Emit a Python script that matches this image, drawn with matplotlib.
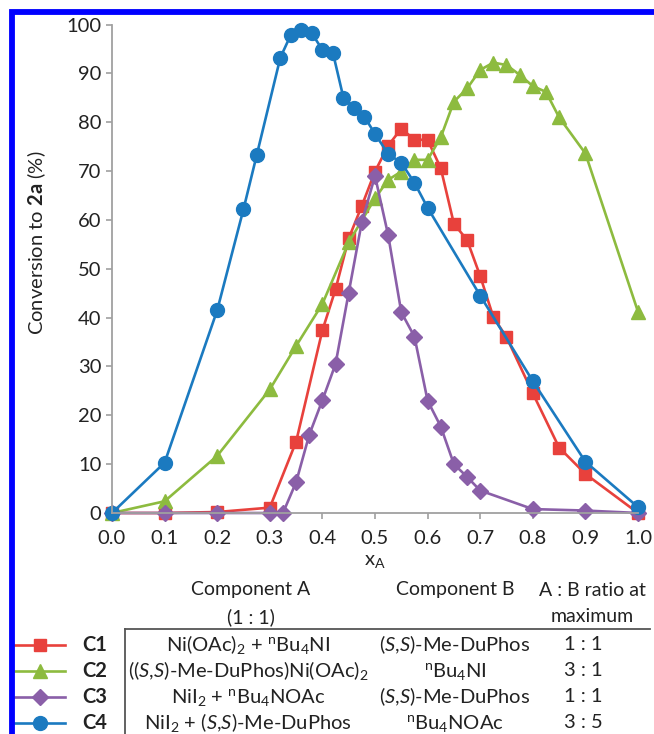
import matplotlib
matplotlib.use("Agg")
import matplotlib.pyplot as plt
from matplotlib.lines import Line2D

plt.rcParams['font.family'] = ['Lato', 'DejaVu Sans']
plt.rcParams['mathtext.fontset'] = 'custom'
plt.rcParams['mathtext.rm'] = 'Lato'
plt.rcParams['mathtext.it'] = 'Lato:italic'
plt.rcParams['mathtext.bf'] = 'Lato:bold'

# ---- data ----
x_c1 = [0, 0.1, 0.2, 0.3, 0.35, 0.4, 0.425, 0.45, 0.475, 0.5, 0.525, 0.55, 0.575, 0.6,
        0.625, 0.65, 0.675, 0.7, 0.725, 0.75, 0.8, 0.85, 0.9, 1.0]
y_c1 = [0, 0, 0.2, 1.1, 14.6, 37.4, 45.8, 56.2, 62.9, 69.9, 75.2, 78.7, 76.4, 76.4,
        70.6, 59.2, 55.9, 48.5, 40.1, 36.0, 24.5, 13.4, 8.0, 0]

x_c2 = [0, 0.1, 0.2, 0.3, 0.35, 0.4, 0.45, 0.5, 0.525, 0.55, 0.575, 0.6, 0.625, 0.65,
        0.675, 0.7, 0.725, 0.75, 0.775, 0.8, 0.825, 0.85, 0.9, 1.0]
y_c2 = [0, 2.4, 11.7, 25.3, 34.2, 42.8, 55.4, 64.4, 68.2, 69.9, 72.3, 72.3, 76.9, 84.2,
        86.9, 90.7, 92.2, 91.7, 89.7, 87.4, 86.2, 81.0, 73.6, 41.2]

x_c3 = [0, 0.1, 0.2, 0.3, 0.325, 0.35, 0.375, 0.4, 0.425, 0.45, 0.475, 0.5, 0.525, 0.55,
        0.575, 0.6, 0.625, 0.65, 0.675, 0.7, 0.8, 0.9, 1.0]
y_c3 = [0, 0, 0, 0, 0, 6.3, 16.0, 23.1, 30.5, 45.1, 59.6, 69.0, 56.9, 41.1,
        36.1, 23.0, 17.7, 10.0, 7.4, 4.6, 0.8, 0.5, 0]

x_c4 = [0, 0.1, 0.2, 0.25, 0.275, 0.32, 0.34, 0.36, 0.38, 0.4, 0.42, 0.44, 0.46, 0.48,
        0.5, 0.525, 0.55, 0.575, 0.6, 0.7, 0.8, 0.9, 1.0]
y_c4 = [0, 10.3, 41.5, 62.2, 73.2, 93.2, 97.9, 98.9, 98.2, 94.8, 94.2, 85.0, 83.0, 81.1,
        77.6, 73.5, 71.7, 67.6, 62.5, 44.5, 27.0, 10.5, 1.2]

names = ["C1", "C2", "C3", "C4"]
comp_a = [r"Ni(OAc)$_2$ + $^\mathrm{n}$Bu$_4$NI",
          r"(($\mathit{S}$,$\mathit{S}$)-Me-DuPhos)Ni(OAc)$_2$",
          r"NiI$_2$ + $^\mathrm{n}$Bu$_4$NOAc",
          r"NiI$_2$ + ($\mathit{S}$,$\mathit{S}$)-Me-DuPhos"]
comp_b = [r"($\mathit{S}$,$\mathit{S}$)-Me-DuPhos",
          r"$^\mathrm{n}$Bu$_4$NI",
          r"($\mathit{S}$,$\mathit{S}$)-Me-DuPhos",
          r"$^\mathrm{n}$Bu$_4$NOAc"]
ratios = ["1 : 1", "3 : 1", "1 : 1", "3 : 5"]

colors = ['#e8413c', '#8dbb3f', '#8a5fa8', '#1b7ac0']
markers = ['s', '^', 'D', 'o']
msizes = [8.5, 10, 8, 10]

# ---- figure ----
W, H = 654, 734
fig = plt.figure(figsize=(W / 100, H / 100), dpi=100)


def fx(px):
    return px / W


def fy(py):
    return 1 - py / H


ax = fig.add_axes([fx(112), fy(513), fx(638) - fx(112), fy(24.5) - fy(513)])

series = [(x_c1, y_c1), (x_c2, y_c2), (x_c3, y_c3), (x_c4, y_c4)]
for (xs, ys), c, m, ms in zip(series, colors, markers, msizes):
    ax.plot(xs, ys, color=c, marker=m, markersize=ms, lw=1.9,
            markeredgecolor=c, clip_on=False)

ax.set_xlim(0, 1)
ax.set_ylim(0, 100)
ax.set_xticks([i / 10 for i in range(11)])
ax.set_xticklabels(["%.1f" % (i / 10) for i in range(11)])
ax.set_yticks(range(0, 101, 10))

for s in ['top', 'right']:
    ax.spines[s].set_visible(False)
for s in ['left', 'bottom']:
    ax.spines[s].set_color('#a0a0a0')
    ax.spines[s].set_linewidth(1.3)

ax.tick_params(axis='both', colors='#a0a0a0', labelcolor='#222222',
               labelsize=14.5, width=1.2, length=4.5)
ax.tick_params(axis='x', pad=8)
ax.tick_params(axis='y', pad=3)

ax.set_ylabel(r"Conversion to $\mathbf{2a}$ (%)", fontsize=14.5, color='#222222')
ax.yaxis.set_label_coords((48 - 112) / 526, (513 - 243) / 488.5)

fig.text(fx(375), fy(562), r"x$_\mathrm{A}$", ha='center', va='center',
         fontsize=14.5, color='#222222')

# ---- table below ----
tc = '#222222'
fs_head = 14
fs = 14.5
fig.text(fx(251), fy(590), "Component A", ha='center', va='center', fontsize=fs_head, color=tc)
fig.text(fx(251), fy(617), "(1 : 1)", ha='center', va='center', fontsize=fs_head, color=tc)
fig.text(fx(455), fy(590), "Component B", ha='center', va='center', fontsize=fs_head, color=tc)
fig.text(fx(592), fy(590), "A : B ratio at", ha='center', va='center', fontsize=fs_head, color=tc)
fig.text(fx(592), fy(617), "maximum", ha='center', va='center', fontsize=fs_head, color=tc)

fig.add_artist(Line2D([fx(125), fx(650)], [fy(629), fy(629)], color='#555555', lw=1.3))
fig.add_artist(Line2D([fx(125), fx(125)], [fy(629), fy(740)], color='#555555', lw=1.3))

row_y = [645, 671, 697, 723]
for i in range(4):
    yy = fy(row_y[i])
    fig.add_artist(Line2D([fx(15), fx(65)], [yy, yy], color=colors[i], lw=1.9))
    fig.add_artist(Line2D([fx(40)], [yy], color=colors[i], marker=markers[i],
                          markersize=msizes[i], markeredgecolor=colors[i]))
    fig.text(fx(82), yy, names[i], ha='left', va='center', fontsize=fs,
             fontweight='bold', color=tc)
    fig.text(fx(248), yy, comp_a[i], ha='center', va='center', fontsize=fs, color=tc)
    fig.text(fx(455), yy, comp_b[i], ha='center', va='center', fontsize=fs, color=tc)
    fig.text(fx(583), yy, ratios[i], ha='center', va='center', fontsize=fs, color=tc)

# blue frame (left and top edges visible)
fig.add_artist(Line2D([fx(12), fx(12), fx(660)], [fy(740), fy(12), fy(12)],
                      color='#0000ff', lw=4.2, solid_joinstyle='miter'))

fig.savefig("out.png", dpi=100)
